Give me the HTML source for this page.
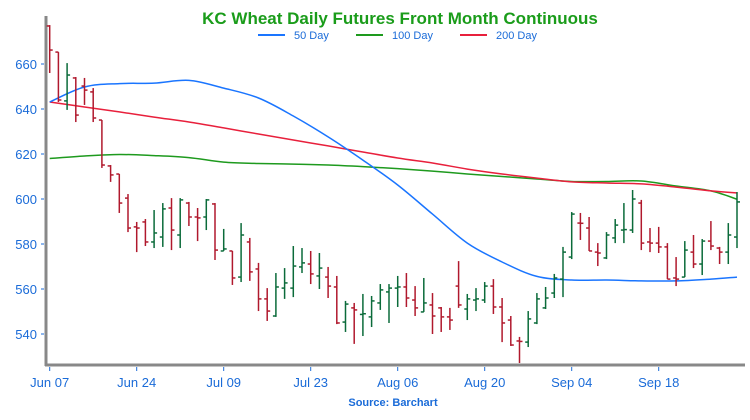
<!DOCTYPE html>
<html><head><meta charset="utf-8"><style>
body{margin:0;background:#fff;}
svg{display:block;font-family:"Liberation Sans",sans-serif;}
</style></head><body>
<svg id="chart" width="750" height="420">
<text x="400" y="24" text-anchor="middle" font-size="17" font-weight="bold" fill="#1a9c1a">KC Wheat Daily Futures Front Month Continuous</text>
<g>
<g><line x1="258" y1="35" x2="285" y2="35" stroke="#1a75ff" stroke-width="2"/><text x="294" y="39" font-size="11" fill="#1a6bd8">50 Day</text></g>
<g><line x1="356" y1="35" x2="383" y2="35" stroke="#1e9a1e" stroke-width="2"/><text x="392" y="39" font-size="11" fill="#1a6bd8">100 Day</text></g>
<g><line x1="460" y1="35" x2="487" y2="35" stroke="#e8203c" stroke-width="2"/><text x="496" y="39" font-size="11" fill="#1a6bd8">200 Day</text></g>
</g>
<g id="plot"></g>
<text x="393" y="406" text-anchor="middle" font-size="11" font-weight="bold" fill="#1a6bd8">Source: Barchart</text>
</svg>
<script>
const opens=[676.9,665.3,643.6,653.8,650.2,647.6,635.1,614.7,611.1,600.4,587.6,589.8,580.9,583.1,596.0,584.0,598.2,592.0,592.0,597.8,576.9,576.9,565.3,580.9,568.9,555.6,548.0,560.4,560.4,569.8,571.1,565.8,565.3,560.9,545.3,551.6,548.7,547.6,553.8,558.7,560.4,560.9,555.1,549.8,552.9,551.6,547.6,561.3,551.1,555.1,555.1,561.3,552.0,546.2,536.9,536.4,544.9,551.6,558.2,564.4,574.2,589.3,587.1,576.4,573.8,582.7,586.2,586.2,598.2,580.9,580.4,578.7,564.9,565.3,576.4,571.1,581.3,578.2,576.4,583.1];
const highs=[677.3,665.3,660.4,654.2,653.8,649.3,635.1,615.1,611.1,602.2,589.8,591.1,595.1,598.2,600.4,600.4,598.7,596.0,600.0,598.2,586.7,576.9,589.3,582.7,571.6,560.4,567.1,569.3,579.1,578.2,576.9,576.0,569.8,565.8,554.7,553.8,557.8,556.9,562.2,562.2,565.8,567.1,561.3,564.9,558.2,552.0,551.6,572.4,557.8,560.4,563.1,564.4,556.0,548.0,538.7,550.2,558.2,560.9,566.7,578.7,594.2,593.8,592.0,580.4,585.3,591.1,598.2,604.0,599.6,587.1,587.6,580.4,574.2,581.3,584.0,582.2,590.2,578.7,589.3,603.1];
const lows=[656.0,643.1,639.6,634.2,641.8,634.2,613.8,607.6,593.8,585.3,576.4,579.1,578.2,578.7,577.3,578.2,588.0,581.3,586.2,572.9,576.9,561.8,563.1,563.6,550.2,545.8,547.6,555.6,556.4,567.1,562.2,560.0,556.0,544.4,540.9,535.6,539.1,543.1,550.7,544.9,552.0,552.0,548.0,549.8,540.0,540.9,541.8,551.6,546.2,550.2,553.8,548.9,536.4,534.7,527.1,534.2,544.4,551.1,556.0,556.4,573.3,581.8,576.9,570.2,573.3,580.4,580.4,584.9,577.3,576.4,576.0,564.4,561.3,565.3,569.3,566.2,577.3,571.1,571.1,578.2];
const closes=[666.2,644.0,655.1,637.3,648.4,636.0,615.1,610.7,598.2,587.1,587.1,580.9,584.9,595.6,586.2,599.6,592.0,591.6,599.6,577.3,577.8,564.9,584.0,567.6,555.6,550.2,560.9,562.7,570.2,571.6,566.7,569.3,561.3,544.9,553.3,550.7,549.0,554.7,559.6,560.4,560.9,556.0,551.6,553.8,548.0,547.6,546.2,552.9,555.6,555.6,561.3,552.0,544.9,535.1,536.7,546.7,555.6,556.0,564.9,576.4,593.3,589.2,576.9,576.0,584.0,588.4,586.4,600.0,580.4,580.4,578.7,564.4,564.4,577.3,571.1,581.3,579.1,576.4,584.0,598.7];
const maIdx=[0,4,8,12,16,20,24,28,32,36,40,44,48,52,56,60,64,68,72,76,79];
const ma50=[643.1,649.8,651.3,651.5,652.7,649.3,644.9,636.9,627.6,617.3,606.2,593.3,580.4,572.0,565.6,564.0,564.0,563.6,563.6,564.4,565.3];
const ma100=[618.0,619.1,619.8,619.3,618.4,616.4,615.8,615.5,615.1,614.4,613.5,612.4,611.1,610.0,608.9,607.8,607.8,608.0,605.8,603.6,599.9];
const ma200=[643.1,640.9,638.7,636.4,634.2,631.6,628.9,626.2,623.6,620.9,618.2,616.0,613.3,611.1,609.3,607.6,607.1,606.7,605.3,603.6,602.7];
const yTicks=[540,560,580,600,620,640,660];
const xLabels=["Jun 07","Jun 24","Jul 09","Jul 23","Aug 06","Aug 20","Sep 04","Sep 18"];
const xLabelIdx=[0,10,20,30,40,50,60,70];

const NS="http://www.w3.org/2000/svg";
const plot=document.getElementById('plot');
const xs=i=>49.7+i*8.7;
const ys=p=>64+(660-p)*2.25;
function mk(tag,attrs,parent){const e=document.createElementNS(NS,tag);for(const k in attrs)e.setAttribute(k,attrs[k]);(parent||plot).appendChild(e);return e;}

const ya=mk('line',{x1:46,y1:16,x2:46,y2:366,stroke:'#888',"stroke-width":3});


const xa=mk('line',{x1:45,y1:365,x2:745,y2:365,stroke:'#888',"stroke-width":3});


yTicks.forEach(v=>{
  const y=ys(v);
  mk('line',{x1:41,y1:y,x2:44,y2:y,stroke:'#1a6bd8',"stroke-width":1});
  const t=mk('text',{x:37,y:y+5,"text-anchor":"end","font-size":13,fill:'#1a6bd8'});
  t.textContent=v;
  
  
});
xLabels.forEach((lab,k)=>{
  const x=xs(xLabelIdx[k]);
  mk('line',{x1:x,y1:367,x2:x,y2:371,stroke:'#1a6bd8',"stroke-width":1});
  const t=mk('text',{x:x,y:387,"text-anchor":"middle","font-size":13,fill:'#1a6bd8'});
  t.textContent=lab;
  
  
});
function line(vals,color,name){
  const P=vals.map((v,k)=>[xs(maIdx[k]),ys(v)]);
  let d='M'+P[0][0].toFixed(1)+' '+P[0][1].toFixed(1);
  for(let k=0;k<P.length-1;k++){
    const p0=P[k-1]||P[k],p1=P[k],p2=P[k+1],p3=P[k+2]||P[k+1];
    const c1=[p1[0]+(p2[0]-p0[0])/6,p1[1]+(p2[1]-p0[1])/6];
    const c2=[p2[0]-(p3[0]-p1[0])/6,p2[1]-(p3[1]-p1[1])/6];
    d+=' C'+c1.map(n=>n.toFixed(1)).join(' ')+' '+c2.map(n=>n.toFixed(1)).join(' ')+' '+p2[0].toFixed(1)+' '+p2[1].toFixed(1);
  }
  const p=mk('path',{d:d,fill:'none',stroke:color,"stroke-width":1.5,"stroke-linejoin":"round"});
  
  
}
line(ma100,'#1e9a1e','ma-100-day-line');
line(ma200,'#e8203c','ma-200-day-line');
line(ma50,'#1a75ff','ma-50-day-line');
opens.forEach((o,i)=>{
  const c=closes[i];const col=c>=o?'#0b6b3a':'#b0192d';const x=xs(i);
  const g=mk('g',{stroke:col,"stroke-width":1.5});
  
  
  mk('line',{x1:x,y1:ys(highs[i]),x2:x,y2:ys(lows[i])},g);
  mk('line',{x1:x-3,y1:ys(o),x2:x,y2:ys(o)},g);
  mk('line',{x1:x,y1:ys(c),x2:x+3,y2:ys(c)},g);
});
</script>
</body></html>
